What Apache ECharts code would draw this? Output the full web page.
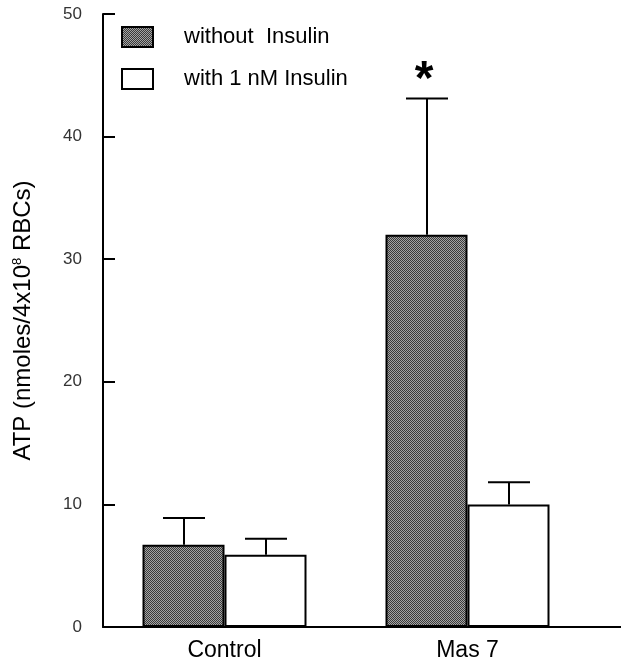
<!DOCTYPE html>
<html><head><meta charset="utf-8">
<script src="https://cdn.jsdelivr.net/npm/echarts@6/dist/echarts.min.js"></script>
<style>html,body{margin:0;padding:0;background:#fff}#c{width:623px;height:667px}</style>
</head><body><div id="c"></div>
<script>
// ---- data ----
const categories = ['Control', 'Mas 7'];
const seriesNames = ['without  Insulin', 'with 1 nM Insulin'];
const withoutInsulin = [6.7, 32.0];
const withoutInsulinErr = [2.2, 11.1];
const withInsulin = [5.9, 10.0];
const withInsulinErr = [1.3, 1.8];
const significance = ['', '*'];
const yMin = 0, yMax = 50, yStep = 10;

// ---- styles ----
const FONT = '"Liberation Sans", Arial, sans-serif';
const BAR_W = 82;
const CAP_HALF = 21;
const GRID = {left: 103, right: 34, top: 14, bottom: 40};
const W = 623, H = 667;

function makePattern() {
  const c = document.createElement('canvas');
  c.width = 4; c.height = 4;
  const g = c.getContext('2d');
  g.fillStyle = '#a4a4a4'; g.fillRect(0, 0, 4, 4);
  g.fillStyle = '#3a3a3a';
  for (let y = 0; y < 4; y++) for (let x = 0; x < 4; x++) if ((x + y) % 2 === 0) g.fillRect(x, y, 1, 1);
  return c;
}
const grayFill = {image: makePattern(), repeat: 'repeat'};

function errSeries(vals, errs, offset, marks) {
  return {
    type: 'custom',
    silent: true,
    z: 5,
    data: vals.map((v, i) => [i, v, errs[i]]),
    renderItem: function (params, api) {
      const i = params.dataIndex;
      const base = api.coord([api.value(0), api.value(1)]);
      const top = api.coord([api.value(0), api.value(1) + api.value(2)]);
      const x = Math.round(base[0] + offset);
      const st = {stroke: '#000', lineWidth: 2};
      const children = [
        {type: 'line', shape: {x1: x, y1: base[1], x2: x, y2: top[1]}, style: st},
        {type: 'line', shape: {x1: x - CAP_HALF, y1: top[1], x2: x + CAP_HALF, y2: top[1]}, style: st}
      ];
      if (marks && marks[i]) {
        children.push({type: 'text', style: {text: marks[i], x: x - 3, y: top[1] + 6,
          align: 'center', verticalAlign: 'bottom', font: 'bold 48px ' + FONT, fill: '#000'}});
      }
      return {type: 'group', children: children};
    }
  };
}

const chart = echarts.init(document.getElementById('c'), null, {renderer: 'canvas'});
chart.setOption({
  animation: false,
  backgroundColor: '#fff',
  grid: {left: GRID.left, right: GRID.right, top: GRID.top, bottom: GRID.bottom, containLabel: false},
  legend: {
    orient: 'vertical', left: 116, top: 21, itemWidth: 31, itemHeight: 20, itemGap: 20,
    icon: 'rect',
    data: seriesNames,
    textStyle: {fontFamily: FONT, fontSize: 22, color: '#000', padding: [0, 0, 0, 26]},
    selectedMode: false
  },
  xAxis: {
    type: 'category', data: categories,
    axisLine: {lineStyle: {color: '#000', width: 2}},
    axisTick: {show: false},
    axisLabel: {fontFamily: FONT, fontSize: 23, color: '#000', margin: 12}
  },
  yAxis: {
    type: 'value', min: yMin, max: yMax, interval: yStep,
    name: 'ATP (nmoles/4x10{s|8} RBCs)', nameLocation: 'middle', nameGap: 67,
    nameTextStyle: {fontFamily: FONT, fontSize: 24, color: '#000',
      rich: {s: {fontFamily: FONT, fontSize: 13, verticalAlign: 'top', color: '#000', padding: [0, 0, 12, 0]}}},
    axisLine: {show: true, lineStyle: {color: '#000', width: 2}},
    axisTick: {show: true, inside: true, length: 12, lineStyle: {color: '#000', width: 2}},
    splitLine: {show: false},
    axisLabel: {fontFamily: FONT, fontSize: 17, color: '#333', margin: 21}
  },
  graphic: [{
    type: 'line', silent: true,
    shape: {x1: W - GRID.right, y1: H - GRID.bottom, x2: W - 2, y2: H - GRID.bottom},
    style: {stroke: '#000', lineWidth: 2}
  }],
  series: [
    {name: seriesNames[0], type: 'bar', data: withoutInsulin, barWidth: BAR_W, barGap: '0%',
      itemStyle: {color: grayFill, borderColor: '#000', borderWidth: 2}},
    {name: seriesNames[1], type: 'bar', data: withInsulin, barWidth: BAR_W, barGap: '0%',
      itemStyle: {color: '#fff', borderColor: '#000', borderWidth: 2}},
    errSeries(withoutInsulin, withoutInsulinErr, -BAR_W / 2, significance),
    errSeries(withInsulin, withInsulinErr, BAR_W / 2, null)
  ]
});
</script></body></html>
